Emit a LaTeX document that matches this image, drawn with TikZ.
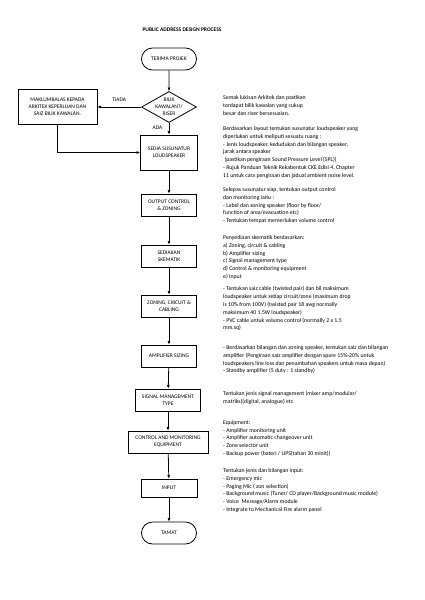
\documentclass[tikz,border=0pt]{standalone}
\usepackage{fontspec}
\setmainfont{Carlito}
\usetikzlibrary{shapes.geometric,shapes.misc,arrows.meta,positioning}

\begin{document}
\begin{tikzpicture}[x=1pt,y=-1pt,
    box/.style={draw,line width=0.8pt,minimum width=55pt,minimum height=22pt,inner sep=1pt,align=center,font=\fontsize{5.5}{7}\selectfont},
    term/.style={box,rounded rectangle,minimum width=57pt},
    decide/.style={box,diamond,minimum width=55pt,minimum height=31pt,inner sep=-4pt},
    arr/.style={-{Latex[length=3.5pt,width=3pt]},line width=0.8pt},
    note/.style={anchor=north west,inner sep=0pt,align=left,font=\fontsize{5.8}{7.9}\selectfont}]
    \useasboundingbox (0,0) rectangle (424,600);

    % Title
    \node[font=\fontsize{5.5}{6.5}\selectfont\bfseries] (title) at (182,30) {PUBLIC ADDRESS DESIGN PROCESS};

    % Flow
    \node[term] (start) at (169,59) {TERIMA PROJEK};
    \node[decide] (bilik) at (169,107) {BILIK\\KAWALAN?/\\RISER};
    \node[box,minimum width=79pt,minimum height=35pt] (maklum) at (57.5,107) {MAKLUMBALAS KEPADA\\ARKITEK KEPERLUAN DAN\\SAIZ BILIK KAWALAN.};
    \node[box,minimum width=57pt,minimum height=35pt] (sedia) at (169,152.5) {SEDIA SUSUNATUR\\LOUDSPEAKER};
    \node[box] (output) at (169,205) {OUTPUT CONTROL\\\& ZONING};
    \node[box] (skematik) at (169,256) {SEDIAKAN\\SKEMATIK};
    \node[box] (zoning) at (169,306) {ZONING, CIRCUIT \&\\CABLING};
    \node[box] (amp) at (169,356) {AMPLIFIER SIZING};
    \node[box,minimum width=65pt] (signal) at (168,400) {SIGNAL MANAGEMENT\\TYPE};
    \node[box,minimum width=80pt] (control) at (168,442) {CONTROL AND MONITORING\\EQUIPMENT};
    \node[box,minimum width=56pt,minimum height=18pt] (input) at (169,488) {INPUT};
    \node[term] (tamat) at (169,533) {TAMAT};

    % Arrows
    \draw[arr] (start) -- (bilik);
    \draw[arr] (bilik.west) -- (maklum.east) node[midway,above=2pt,font=\fontsize{5.5}{6}\selectfont] (tiada) {TIADA};
    \draw[arr] (bilik.south) -- (sedia.north) node[pos=0.45,left=3pt,font=\fontsize{5.5}{6}\selectfont] (ada) {ADA};
    \draw[arr] (maklum.south) |- (sedia.west);
    \draw[arr] (sedia) -- (output);
    \draw[arr] (output) -- (skematik);
    \draw[arr] (skematik) -- (zoning);
    \draw[arr] (zoning) -- (amp);
    \draw[arr] (amp) -- (signal);
    \draw[arr] (signal) -- (control);
    \draw[arr] (control) -- (input);
    \draw[arr] (input) -- (tamat);

    % Notes
    \node[note] (note1) at (223,95) {Semak lukisan Arkitek dan pastikan\\terdapat bilik kawalan yang cukup\\besar dan riser bersesuaian.};
    \node[note] (note2) at (223,126) {Berdasarkan layout tentukan susunatur loudspeaker yang\\diperlukan untuk meliputi sesuatu ruang :\\- Jenis loudspeaker, kedudukan dan bilangan speaker,\\jarak antara speaker\\\ (pastikan pengiraan Sound Pressure Level (SPL))\\- Rujuk Panduan Teknik Rekabentuk CKE Edisi 4, Chapter\\11 untuk cara pengiraan dan jadual ambient noise level.};
    \node[note] (note3) at (223,187) {Selepas susunatur siap, tentukan output control\\dan monitoring iaitu :\\- Label dan zoning speaker (floor by floor/\\function of area/evacuation etc)\\- Tentukan tempat memerlukan volume control};
    \node[note] (note4) at (223,235) {Penyediaan skematik berdasarkan:\\a) Zoning, circuit \& cabling\\b) Amplifier sizing\\c) Signal management type\\d) Control \& monitoring equipment\\e) Input};
    \node[note] (note5) at (223,286) {- Tentukan saiz cable (twisted pair) dan bil maksimum\\loudspeaker untuk setiap circuit/zone (maximum drop\\is 10\% from 100V) (twisted pair 18 awg normally\\maksimum 40 1.5W loudspeaker)\\- PVC cable untuk volume control (normally 2 x 1.5\\mm.sq)};
    \node[note] (note6) at (223,345) {- Berdasarkan bilangan dan zoning speaker, tentukan saiz dan bilangan\\amplifier (Pengiraan saiz amplifier dengan spare 15\%-20\% untuk\\loudspeakers line loss dan penambahan speakers untuk masa depan)\\- Standby amplifier (5 duty : 1 standby)};
    \node[note] (note7) at (223,391) {Tentukan jenis signal management (mixer amp/modular/\\matriks)(digital, analogue) etc};
    \node[note] (note8) at (223,420) {Equipment:\\- Amplifier monitoring unit\\- Amplifier automatic changeover unit\\- Zone selector unit\\- Backup power (bateri / UPS(tahan 30 minit))};
    \node[note] (note9) at (223,468) {Tentukan jenis dan bilangan input:\\- Emergency mic\\- Paging Mic ( zon selection)\\- Background music (Tuner/ CD player/Background music module)\\- Voice\ \ Message/Alarm module\\- Integrate to Mechanical Fire alarm panel};
\end{tikzpicture}
\end{document}
